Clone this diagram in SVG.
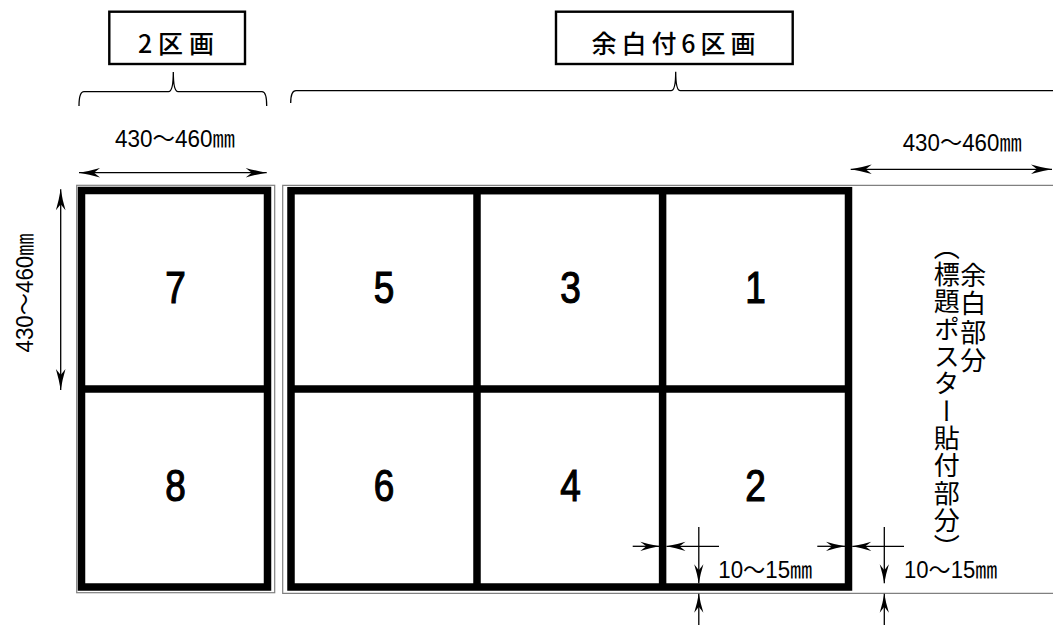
<svg xmlns="http://www.w3.org/2000/svg" width="1053" height="625" viewBox="0 0 1053 625">
<style>
.frame{fill:none;stroke:#000;stroke-width:7.5;stroke-linejoin:miter}
.div{stroke:#000;stroke-width:7.5}
.gray{fill:none;stroke:#808080;stroke-width:1.2}
.box{fill:#fff;stroke:#000;stroke-width:2.4}
.thin{fill:none;stroke:#000;stroke-width:1.3}
.num{font-family:"Liberation Sans",Arial,sans-serif;font-size:44px;fill:#000;stroke:#000;stroke-width:1.2;text-anchor:middle}
.lbl{font-family:"Noto Sans CJK JP",sans-serif;font-size:25px;font-weight:500;fill:#000;text-anchor:middle}
.dim{font-family:"Liberation Sans","Noto Sans CJK JP",sans-serif;font-size:24px;fill:#000}
.vt{font-family:"Noto Sans CJK JP",sans-serif;font-size:26px;fill:#000;writing-mode:vertical-rl}
</style>
<defs>
<marker id="ah" viewBox="-23 -6 24 12" refX="0" refY="0" markerWidth="24" markerHeight="12" markerUnits="userSpaceOnUse" orient="auto-start-reverse">
<path d="M0,0 Q-10,-1.6 -21,-4.8 L-15,0 L-21,4.8 Q-10,1.6 0,0 Z" fill="#000"/>
</marker>
<marker id="ahs" viewBox="-24 -6 25 12" refX="0" refY="0" markerWidth="25" markerHeight="12" markerUnits="userSpaceOnUse" orient="auto-start-reverse">
<path d="M0,0 Q-9,-1.5 -19,-4.6 L-13,0 L-19,4.6 Q-9,1.5 0,0 Z" fill="#000"/>
</marker>
</defs>
<rect width="1053" height="625" fill="#fff"/>

<g id="label-2">
<rect class="box" x="109.3" y="11.7" width="135.7" height="52.3"/>
<text class="lbl" x="176" y="53" textLength="76">2区画</text>
</g>
<g id="label-6">
<rect class="box" x="556" y="11.7" width="236.7" height="52.3"/>
<text class="lbl" x="673.5" y="53" textLength="164">余白付6区画</text>
</g>

<g id="braces" class="thin">
<path d="M79,106 Q79,91.7 84,91.7 L168.5,91.7 Q173.3,91.7 173.3,72 Q173.3,91.7 178.1,91.7 L262,91.7 Q266.7,91.7 266.7,106"/>
<path d="M290.7,103 Q290.7,90.7 296,90.7 L671,90.7 Q675.7,90.7 675.7,71.7 Q675.7,90.7 680.4,90.7 L1053,90.7"/>
</g>

<g id="group-2">
<rect class="gray" x="76.7" y="185.3" width="198" height="407.4"/>
<rect class="frame" x="81.5" y="190.5" width="186" height="396.5"/>
<line class="div" x1="81.5" y1="389" x2="267.5" y2="389"/>
<g id="cell-7"><text class="num" transform="translate(175.5,303) scale(0.84,1)">7</text></g>
<g id="cell-8"><text class="num" transform="translate(175.5,501.4) scale(0.84,1)">8</text></g>
</g>

<g id="group-6">
<path class="gray" d="M1053,185.3 H282.7 V593.3 H1053"/>
<rect class="frame" x="291" y="190.7" width="557.5" height="396.3"/>
<line class="div" x1="477" y1="190.7" x2="477" y2="587"/>
<line class="div" x1="662.6" y1="190.7" x2="662.6" y2="587"/>
<line class="div" x1="291" y1="389" x2="848.5" y2="389"/>
<g id="cell-5"><text class="num" transform="translate(384,303) scale(0.84,1)">5</text></g>
<g id="cell-3"><text class="num" transform="translate(570.5,303) scale(0.84,1)">3</text></g>
<g id="cell-1"><text class="num" transform="translate(755.5,303) scale(0.84,1)">1</text></g>
<g id="cell-6"><text class="num" transform="translate(384,501.4) scale(0.84,1)">6</text></g>
<g id="cell-4"><text class="num" transform="translate(570.5,501.4) scale(0.84,1)">4</text></g>
<g id="cell-2"><text class="num" transform="translate(755.5,501.4) scale(0.84,1)">2</text></g>
</g>

<g id="margin-text">
<text class="vt" x="973.3" y="262" letter-spacing="2.5">余白部分</text>
<text class="vt" x="946.7" y="234" letter-spacing="1.3">（標題ポスター貼付部分）</text>
</g>

<g id="connectors" class="thin">
<line x1="79" y1="172.7" x2="266.7" y2="172.7" marker-start="url(#ah)" marker-end="url(#ah)"/>
<line x1="850.7" y1="169.3" x2="1052" y2="169.3" marker-start="url(#ah)" marker-end="url(#ah)"/>
<line x1="60.7" y1="189.3" x2="60.7" y2="390" marker-start="url(#ah)" marker-end="url(#ah)"/>
<line x1="632.7" y1="546.3" x2="659.3" y2="546.3" marker-end="url(#ahs)"/>
<line x1="719" y1="546.3" x2="666.5" y2="546.3" marker-end="url(#ahs)"/>
<line x1="698.8" y1="527" x2="698.8" y2="583.3" marker-end="url(#ahs)"/>
<line x1="698.8" y1="625" x2="698.8" y2="593.8" marker-end="url(#ahs)"/>
<line x1="817.3" y1="546.3" x2="845" y2="546.3" marker-end="url(#ahs)"/>
<line x1="904" y1="546.3" x2="852.3" y2="546.3" marker-end="url(#ahs)"/>
<line x1="884.3" y1="527" x2="884.3" y2="583.3" marker-end="url(#ahs)"/>
<line x1="884.3" y1="625" x2="884.3" y2="593.8" marker-end="url(#ahs)"/>
</g>

<g id="dim-labels">
<text class="dim" x="115" y="146.5" textLength="120" lengthAdjust="spacingAndGlyphs">430～460㎜</text>
<text class="dim" x="902.7" y="151" textLength="119" lengthAdjust="spacingAndGlyphs">430～460㎜</text>
<text class="dim" transform="translate(33.3,293) rotate(-90)" text-anchor="middle" textLength="119" lengthAdjust="spacingAndGlyphs">430～460㎜</text>
<text class="dim" x="718.3" y="578.3" style="font-size:23px" textLength="94" lengthAdjust="spacingAndGlyphs">10～15㎜</text>
<text class="dim" x="904" y="578.3" style="font-size:23px" textLength="93.3" lengthAdjust="spacingAndGlyphs">10～15㎜</text>
</g>
</svg>
